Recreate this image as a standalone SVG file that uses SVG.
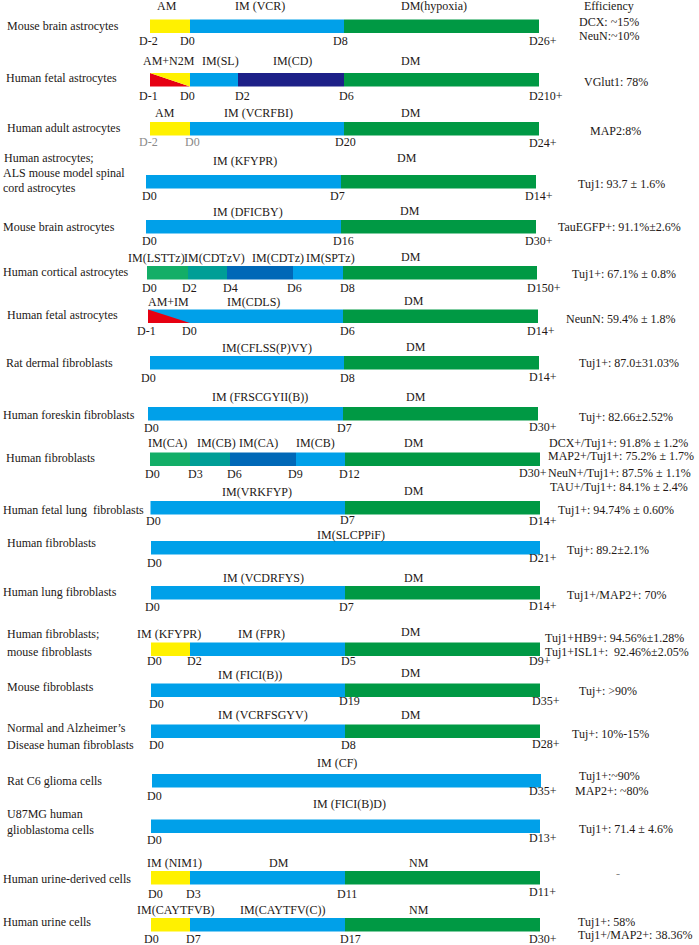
<svg xmlns="http://www.w3.org/2000/svg" width="699" height="945" viewBox="0 0 699 945">
<style>
text{font-family:"Liberation Serif","Times New Roman",serif;font-size:12px;fill:#231815}
text.gr{fill:#8a8a8a}
.y{fill:#FFF100}.b{fill:#00A0E9}.g{fill:#009944}.n{fill:#1D2088}.r{fill:#E60012}.t{fill:#009E96}.d{fill:#0068B7}.l{fill:#13AE67}
</style>
<rect width="699" height="945" fill="#fff"/>
<g id="header"><text x="584" y="10">Efficiency</text></g>
<g id="r1">
<rect class="y" x="150" y="19.5" width="40" height="13.5"/><rect class="b" x="190" y="19.5" width="154" height="13.5"/><rect class="g" x="344" y="19.5" width="195" height="13.5"/>
<text x="7" y="30">Mouse brain astrocytes</text>
<text x="157" y="10">AM</text><text x="235" y="10">IM (VCR)</text><text x="401" y="10">DM(hypoxia)</text>
<text x="139" y="45">D-2</text><text x="180" y="45">D0</text><text x="333" y="45">D8</text><text x="529" y="45">D26+</text>
<text x="579" y="26">DCX: ~15%</text><text x="579" y="40">NeuN:~10%</text>
</g>
<g id="r2">
<polygon class="r" points="150,73 150,86.5 190,86.5"/><polygon class="y" points="150,73 190,73 190,86.5"/>
<rect class="b" x="190" y="73" width="48" height="13.5"/><rect class="n" x="238" y="73" width="106" height="13.5"/><rect class="g" x="344" y="73" width="195" height="13.5"/>
<text x="6" y="81.5">Human fetal astrocytes</text>
<text x="143" y="65">AM+N2M</text><text x="202" y="65">IM(SL)</text><text x="273" y="65">IM(CD)</text><text x="401" y="65">DM</text>
<text x="139" y="100">D-1</text><text x="180" y="100">D0</text><text x="235" y="100">D2</text><text x="339" y="100">D6</text><text x="529" y="100">D210+</text>
<text x="584" y="86">VGlut1: 78%</text>
</g>
<g id="r3">
<rect class="y" x="150" y="122" width="40" height="13.5"/><rect class="b" x="190" y="122" width="154" height="13.5"/><rect class="g" x="344" y="122" width="195" height="13.5"/>
<text x="7" y="131.5">Human adult astrocytes</text>
<text x="155" y="117">AM</text><text x="224" y="117">IM (VCRFBI)</text><text x="401" y="117">DM</text>
<text class="gr" x="139" y="146">D-2</text><text class="gr" x="185" y="146">D0</text><text x="335" y="146">D20</text><text x="529" y="147">D24+</text>
<text x="590" y="135">MAP2:8%</text>
</g>
<g id="r4">
<rect class="b" x="146" y="175" width="195" height="13.5"/><rect class="g" x="341" y="175" width="195" height="13.5"/>
<text x="4" y="162">Human astrocytes;</text><text x="3" y="177">ALS mouse model spinal</text><text x="3" y="192">cord astrocytes</text>
<text x="213" y="165">IM (KFYPR)</text><text x="397" y="162">DM</text>
<text x="142" y="200">D0</text><text x="330" y="200">D7</text><text x="525" y="200">D14+</text>
<text x="578" y="188">Tuj1: 93.7 ± 1.6%</text>
</g>
<g id="r5">
<rect class="b" x="146" y="220" width="195" height="13.5"/><rect class="g" x="341" y="220" width="195" height="13.5"/>
<text x="3" y="231">Mouse brain astrocytes</text>
<text x="213" y="216">IM (DFICBY)</text><text x="400" y="215">DM</text>
<text x="142" y="245">D0</text><text x="333" y="245">D16</text><text x="525" y="245">D30+</text>
<text x="558" y="231">TauEGFP+: 91.1%±2.6%</text>
</g>
<g id="r6">
<rect class="l" x="147" y="266" width="41" height="13.5"/><rect class="t" x="188" y="266" width="39" height="13.5"/><rect class="d" x="227" y="266" width="66" height="13.5"/><rect class="b" x="293" y="266" width="50" height="13.5"/><rect class="g" x="343" y="266" width="194" height="13.5"/>
<text x="3" y="276">Human cortical astrocytes</text>
<text x="128" y="261.5">IM(LSTTz)</text><text x="184" y="261.5">IM(CDTzV)</text><text x="252" y="261.5">IM(CDTz)</text><text x="306" y="261.5">IM(SPTz)</text><text x="401" y="261">DM</text>
<text x="142" y="292">D0</text><text x="182" y="292">D2</text><text x="223" y="292">D4</text><text x="287" y="292">D6</text><text x="340" y="292">D8</text><text x="527" y="292">D150+</text>
<text x="572" y="278">Tuj1+: 67.1% ± 0.8%</text>
</g>
<g id="r7">
<rect class="b" x="148" y="309.5" width="195" height="13.5"/><polygon class="r" points="148,309.5 148,323 190,323"/><rect class="g" x="343" y="309.5" width="195" height="13.5"/>
<text x="7" y="319">Human fetal astrocytes</text>
<text x="148" y="305.5">AM+IM</text><text x="227" y="305.5">IM(CDLS)</text><text x="404" y="305">DM</text>
<text x="137" y="335">D-1</text><text x="182" y="335">D0</text><text x="340" y="335">D6</text><text x="527" y="335">D14+</text>
<text x="566" y="322.5">NeunN: 59.4% ± 1.8%</text>
</g>
<g id="r8">
<rect class="b" x="150" y="356" width="194" height="13.5"/><rect class="g" x="344" y="356" width="195" height="13.5"/>
<text x="6" y="366.5">Rat dermal fibroblasts</text>
<text x="222" y="351.5">IM(CFLSS(P)VY)</text><text x="406" y="351">DM</text>
<text x="141" y="381.5">D0</text><text x="340" y="381.5">D8</text><text x="529" y="381">D14+</text>
<text x="579" y="366.5">Tuj1+: 87.0±31.03%</text>
</g>
<g id="r9">
<rect class="b" x="148" y="407" width="195" height="13.5"/><rect class="g" x="343" y="407" width="195" height="13.5"/>
<text x="3" y="418.5">Human foreskin fibroblasts</text>
<text x="212" y="400.5">IM (FRSCGYII(B))</text><text x="406" y="400.5">DM</text>
<text x="144" y="431.5">D0</text><text x="337" y="431.5">D7</text><text x="529" y="431">D30+</text>
<text x="579" y="420.5">Tuj+: 82.66±2.52%</text>
</g>
<g id="r10">
<rect class="l" x="150" y="452.5" width="40" height="13.5"/><rect class="t" x="190" y="452.5" width="40" height="13.5"/><rect class="d" x="230" y="452.5" width="66" height="13.5"/><rect class="b" x="296" y="452.5" width="49" height="13.5"/><rect class="g" x="345" y="452.5" width="195" height="13.5"/>
<text x="6" y="461.5">Human fibroblasts</text>
<text x="148" y="447">IM(CA)</text><text x="197" y="447">IM(CB)</text><text x="239" y="447">IM(CA)</text><text x="296" y="447">IM(CB)</text><text x="404" y="447">DM</text>
<text x="145" y="477.5">D0</text><text x="188" y="477.5">D3</text><text x="227" y="477.5">D6</text><text x="288" y="477.5">D9</text><text x="339" y="477.5">D12</text><text x="519" y="477">D30+</text>
<text x="549" y="446.5">DCX+/Tuj1+: 91.8% ± 1.2%</text><text x="548" y="459.5">MAP2+/Tuj1+: 75.2% ± 1.7%</text><text x="548" y="477">NeuN+/Tuj1+: 87.5% ± 1.1%</text><text x="550" y="491">TAU+/Tuj1+: 84.1% ± 2.4%</text>
</g>
<g id="r11">
<rect class="b" x="150.5" y="501" width="194.5" height="13.5"/><rect class="g" x="345" y="501" width="195" height="13.5"/>
<text x="3" y="513.5">Human fetal lung&#160; fibroblasts</text>
<text x="222" y="496">IM(VRKFYP)</text><text x="404" y="495">DM</text>
<text x="146" y="524.5">D0</text><text x="340" y="524">D7</text><text x="529" y="524.5">D14+</text>
<text x="558" y="513.5">Tuj1+: 94.74% ± 0.60%</text>
</g>
<g id="r12">
<rect class="b" x="151" y="541" width="389" height="13.5"/>
<text x="7" y="547">Human fibroblasts</text>
<text x="317" y="538.5">IM(SLCPPiF)</text>
<text x="147" y="567">D0</text><text x="529" y="562">D21+</text>
<text x="567" y="553.5">Tuj+: 89.2±2.1%</text>
</g>
<g id="r13">
<rect class="b" x="151" y="586" width="194" height="13.5"/><rect class="g" x="345" y="586" width="195" height="13.5"/>
<text x="3" y="596">Human lung fibroblasts</text>
<text x="223" y="582">IM (VCDRFYS)</text><text x="404" y="581.5">DM</text>
<text x="145" y="611">D0</text><text x="339" y="611">D7</text><text x="529" y="610">D14+</text>
<text x="567" y="598.5">Tuj1+/MAP2+: 70%</text>
</g>
<g id="r14">
<rect class="y" x="151" y="642.5" width="39" height="13.5"/><rect class="b" x="190" y="642.5" width="155" height="13.5"/><rect class="g" x="345" y="642.5" width="195" height="13.5"/>
<text x="7" y="638">Human fibroblasts;</text><text x="7" y="656">mouse fibroblasts</text>
<text x="137" y="638">IM (KFYPR)</text><text x="238" y="638">IM (FPR)</text><text x="401" y="636">DM</text>
<text x="147" y="665">D0</text><text x="187" y="665">D2</text><text x="341" y="665">D5</text><text x="529" y="664.5">D9+</text>
<text x="545" y="641.5">Tuj1+HB9+: 94.56%±1.28%</text><text x="545" y="656">Tuj1+ISL1+:&#160; 92.46%±2.05%</text>
</g>
<g id="r15">
<rect class="b" x="151" y="683.5" width="194" height="13.5"/><rect class="g" x="345" y="683.5" width="195" height="13.5"/>
<text x="7" y="691">Mouse fibroblasts</text>
<text x="218" y="678.5">IM (FICI(B))</text><text x="401" y="677">DM</text>
<text x="149" y="707.5">D0</text><text x="339" y="705">D19</text><text x="532" y="705">D35+</text>
<text x="579" y="695">Tuj+: &gt;90%</text>
</g>
<g id="r16">
<rect class="b" x="151" y="724.5" width="194" height="13.5"/><rect class="g" x="345" y="724.5" width="195" height="13.5"/>
<text x="7" y="732">Normal and Alzheimer’s</text><text x="7" y="748.5">Disease human fibroblasts</text>
<text x="218" y="719">IM (VCRFSGYV)</text><text x="401" y="718.5">DM</text>
<text x="149" y="748.5">D0</text><text x="341" y="748.5">D8</text><text x="532" y="747.5">D28+</text>
<text x="572" y="737.5">Tuj+: 10%-15%</text>
</g>
<g id="r17">
<rect class="b" x="152" y="774" width="389" height="13.5"/>
<text x="7" y="785">Rat C6 glioma cells</text>
<text x="317" y="767">IM (CF)</text>
<text x="147" y="800">D0</text><text x="529" y="795">D35+</text>
<text x="579" y="779.5">Tuj1+:~90%</text><text x="575" y="795">MAP2+: ~80%</text>
</g>
<g id="r18">
<rect class="b" x="151" y="819.5" width="389" height="13.5"/>
<text x="7" y="818">U87MG human</text><text x="7" y="834">glioblastoma cells</text>
<text x="313" y="807.5">IM (FICI(B)D)</text>
<text x="147" y="843.5">D0</text><text x="529" y="842">D13+</text>
<text x="579" y="833">Tuj1+: 71.4 ± 4.6%</text>
</g>
<g id="r19">
<rect class="y" x="151" y="871" width="39" height="13.5"/><rect class="b" x="190" y="871" width="155" height="13.5"/><rect class="g" x="345" y="871" width="195" height="13.5"/>
<text x="3" y="883">Human urine-derived cells</text>
<text x="147" y="867">IM (NIM1)</text><text x="269" y="867">DM</text><text x="409" y="866.5">NM</text>
<text x="148" y="897.5">D0</text><text x="186" y="897.5">D3</text><text x="337" y="897.5">D11</text><text x="529" y="896">D11+</text>
<text class="gr" x="616" y="878">-</text>
</g>
<g id="r20">
<rect class="y" x="151" y="918" width="39" height="13.5"/><rect class="b" x="190" y="918" width="155" height="13.5"/><rect class="g" x="345" y="918" width="195" height="13.5"/>
<text x="3" y="926">Human urine cells</text>
<text x="137" y="914">IM(CAYTFVB)</text><text x="240" y="914">IM(CAYTFV(C))</text><text x="409" y="913.5">NM</text>
<text x="144" y="943">D0</text><text x="186" y="943">D7</text><text x="340" y="943">D17</text><text x="529" y="943">D30+</text>
<text x="578" y="926">Tuj1+: 58%</text><text x="578" y="938.5">Tuj1+/MAP2+: 38.36%</text>
</g>
<g id="connectors"/>
</svg>
